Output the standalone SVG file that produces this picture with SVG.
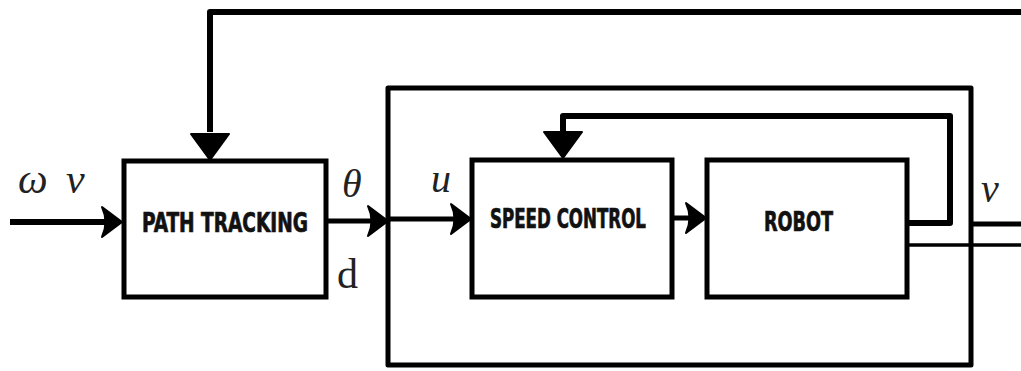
<svg xmlns="http://www.w3.org/2000/svg" width="1021" height="371" viewBox="0 0 1021 371">
<style>
.box{fill:#fff;stroke:#000;stroke-width:5}
.ln{fill:none;stroke:#000;stroke-width:5;stroke-linejoin:round}
.thin{fill:none;stroke:#000;stroke-width:3.5}
.lbl{font-family:"DejaVu Sans Condensed","Liberation Sans Narrow","DejaVu Sans",sans-serif;font-weight:bold;fill:#111;stroke:#111;stroke-width:0.7}
.math{font-family:"Liberation Serif","DejaVu Serif",serif;font-style:italic;fill:#222}
.mup{font-family:"Liberation Serif","DejaVu Serif",serif;fill:#222}
.ah{fill:#000;stroke:#000;stroke-width:2;stroke-linejoin:round}
</style>
<defs>
<path id="ahR" d="M0,0 L-20,-15 Q-13,0 -20,15 Z"/>
<path id="ahD" d="M0,0 L-19,-26 L19,-26 Z"/>
</defs>
<rect width="1021" height="371" fill="#fff"/>
<g id="connectors">
<polyline class="ln" points="1021,12 210,12 210,132" style="stroke-width:6"/>
<use href="#ahD" class="ah" x="210" y="160"/>
<rect class="ln" x="388" y="88" width="583" height="277"/>
<line class="ln" x1="10" y1="222" x2="108" y2="222" style="stroke-width:6"/>
<use href="#ahR" class="ah" x="122" y="222"/>
<line class="ln" x1="326" y1="221" x2="376" y2="221"/>
<use href="#ahR" class="ah" x="388" y="221"/>
<line class="ln" x1="388" y1="219" x2="458" y2="219"/>
<use href="#ahR" class="ah" x="471" y="219"/>
<line class="ln" x1="672" y1="218" x2="694" y2="218"/>
<use href="#ahR" class="ah" x="706" y="218"/>
<polyline class="ln" points="907,223 950,223 950,116 563,116 563,134" style="stroke-width:6"/>
<use href="#ahD" class="ah" x="563" y="158"/>
<line class="ln" x1="971" y1="224" x2="1021" y2="224"/>
<line class="thin" x1="907" y1="245" x2="1021" y2="245"/>
</g>
<g id="path-tracking">
<rect class="box" x="124" y="161" width="202" height="136"/>
<text class="lbl" x="142" y="232" font-size="26" textLength="166" lengthAdjust="spacingAndGlyphs">PATH TRACKING</text>
</g>
<g id="speed-control">
<rect class="box" x="472" y="160" width="200" height="137"/>
<text class="lbl" x="490" y="228" font-size="26" textLength="156" lengthAdjust="spacingAndGlyphs">SPEED CONTROL</text>
</g>
<g id="robot">
<rect class="box" x="707" y="160" width="200" height="137"/>
<text class="lbl" x="764" y="231" font-size="26" textLength="69" lengthAdjust="spacingAndGlyphs">ROBOT</text>
</g>
<g id="labels">
<text class="math" x="18" y="193" font-size="42">ω <tspan x="66">ν</tspan></text>
<text class="math" x="342" y="197" font-size="40">θ</text>
<text class="mup" x="337" y="288" font-size="42">d</text>
<text class="math" x="431" y="192" font-size="40">u</text>
<text class="math" x="981" y="202" font-size="40">ν</text>
</g>
</svg>
